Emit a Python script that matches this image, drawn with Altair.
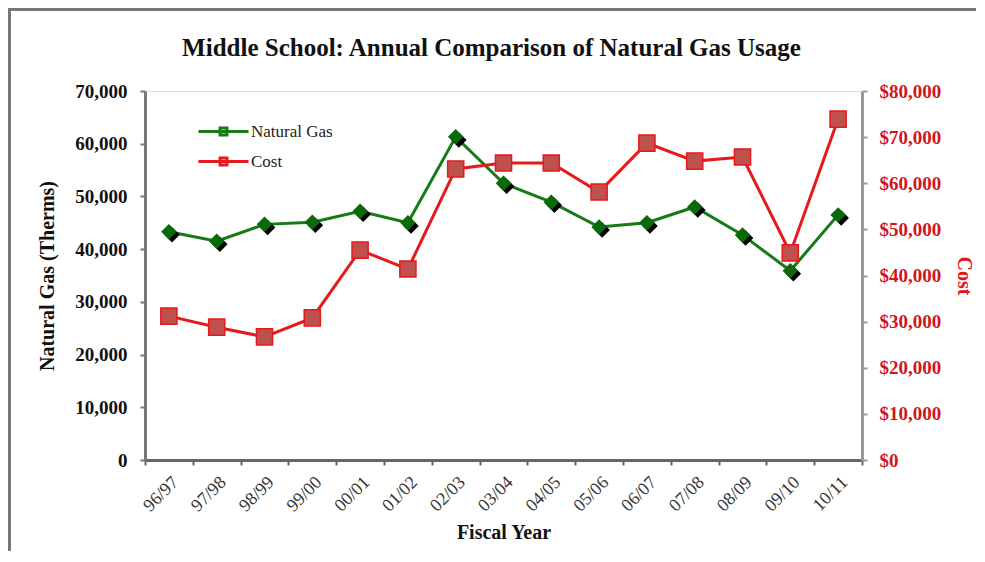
import altair as alt
import pandas as pd

YEARS = ["96/97", "97/98", "98/99", "99/00", "00/01", "01/02", "02/03", "03/04",
         "04/05", "05/06", "06/07", "07/08", "08/09", "09/10", "10/11"]
GAS = [43300, 41500, 44700, 45100, 47200, 45000, 61300, 52500,
       48900, 44200, 45000, 48000, 42700, 35900, 46500]
COST = [31200, 28800, 26700, 30800, 45500, 41400, 63100, 64400,
        64400, 58100, 68700, 64800, 65700, 44900, 73900]
SERIES = ["Natural Gas", "Cost"]

GREEN = "#167a16"
GREEN_FILL = "#0a6a0a"
RED = "#e41a1c"
RED_FILL = "#c0504d"
SERIF = "Liberation Serif"

DIAMOND = "M-1,0L0,-1L1,0L0,1Z"
DIAMOND_SHADOW = "M-0.6,0.4L0.4,-0.6L1.4,0.4L0.4,1.4Z"

df = pd.DataFrame({"year": YEARS, "gas": GAS, "cost": COST})

x = alt.X("year:N", sort=YEARS,
          scale=alt.Scale(type="band", paddingInner=0, paddingOuter=0),
          axis=alt.Axis(title="Fiscal Year", labelAngle=-45, tickBand="extent",
                        labelFont=SERIF, labelFontSize=18, labelColor="#333",
                        titleFont=SERIF, titleFontSize=20, titleFontWeight="bold",
                        titleColor="#111", titlePadding=8,
                        domainColor="#666", domainWidth=3, tickColor="#666",
                        tickWidth=2, tickSize=5, labelPadding=8))

base = alt.Chart(df)

gas_axis = alt.Axis(orient="left", title="Natural Gas (Therms)", format=",.0f",
                    values=[0, 10000, 20000, 30000, 40000, 50000, 60000, 70000],
                    labelFont=SERIF, labelFontSize=19, labelFontWeight="bold",
                    labelColor="#111", titleFont=SERIF, titleFontSize=20,
                    titleFontWeight="bold", titleColor="#111", titlePadding=17,
                    domainColor="#777", domainWidth=3, tickColor="#777",
                    tickWidth=2, tickSize=5, labelPadding=13, grid=False)
cost_axis = alt.Axis(orient="right", title="Cost", format="$,.0f",
                     values=[0, 10000, 20000, 30000, 40000, 50000, 60000, 70000, 80000],
                     labelFont=SERIF, labelFontSize=19, labelFontWeight="bold",
                     labelColor="#d0161b", titleFont=SERIF, titleFontSize=20,
                     titleFontWeight="bold", titleColor="#e0161b", titlePadding=13,
                     domainColor="#999", domainWidth=3, tickColor="#999",
                     tickWidth=2, tickSize=5, labelPadding=12, grid=False)

y_gas = alt.Y("gas:Q", scale=alt.Scale(domain=[0, 70000]), axis=gas_axis)
y_cost = alt.Y("cost:Q", scale=alt.Scale(domain=[0, 80000]), axis=cost_axis)

legend_path = "M-1.67,0H1.67M-0.23,-0.23H0.23V0.23H-0.23Z"
color = alt.Color("series:N",
                  scale=alt.Scale(domain=SERIES, range=[GREEN, RED]),
                  legend=alt.Legend(title=None, orient="none", legendX=62, legendY=24,
                                    symbolType=legend_path, symbolSize=900,
                                    symbolStrokeWidth=3, labelFont=SERIF,
                                    labelFontSize=17, labelColor="#222",
                                    rowPadding=4, labelOffset=11))

gas_line = base.transform_calculate(series="'%s'" % SERIES[0]).mark_line(
    strokeWidth=3).encode(x=x, y=y_gas, color=color)
gas_shadow = base.mark_point(shape=DIAMOND_SHADOW, filled=True, size=240, color="#000",
                             opacity=1).encode(x=x, y=y_gas)
gas_pts = base.mark_point(shape=DIAMOND, filled=True, size=240, color=GREEN_FILL,
                          opacity=1).encode(x=x, y=y_gas)

cost_line = base.transform_calculate(series="'%s'" % SERIES[1]).mark_line(
    strokeWidth=3).encode(x=x, y=y_cost, color=color)
cost_pts = base.mark_point(shape="square", filled=True, size=260, fill=RED_FILL,
                           stroke=RED, strokeWidth=1.5, opacity=1).encode(x=x, y=y_cost)

frame = alt.Chart(pd.DataFrame({"a": [0]})).mark_rect(
    fill=None, stroke="#777", strokeWidth=3).encode(
    x=alt.value(-135.5), x2=alt.value(1200), y=alt.value(-81.5), y2=alt.value(700))

gas_layer = alt.layer(gas_line, gas_shadow, gas_pts)
cost_layer = alt.layer(cost_line, cost_pts)

chart = alt.layer(frame, gas_layer, cost_layer).resolve_scale(
    y="independent").properties(
    width=717, height=369,
    autosize=alt.AutoSizeParams(type="none"),
    padding={"left": 137, "top": 83, "right": 114, "bottom": 91},
    title=alt.TitleParams("Middle School: Annual Comparison of Natural Gas Usage",
                          font=SERIF, fontSize=25, fontWeight="bold", color="#111",
                          offset=-53, dx=-12, frame="group"),
).configure_view(stroke="#aaa", strokeWidth=2).configure(background="white")

chart.save("out.html", embed_options={"renderer": "svg", "actions": False})
